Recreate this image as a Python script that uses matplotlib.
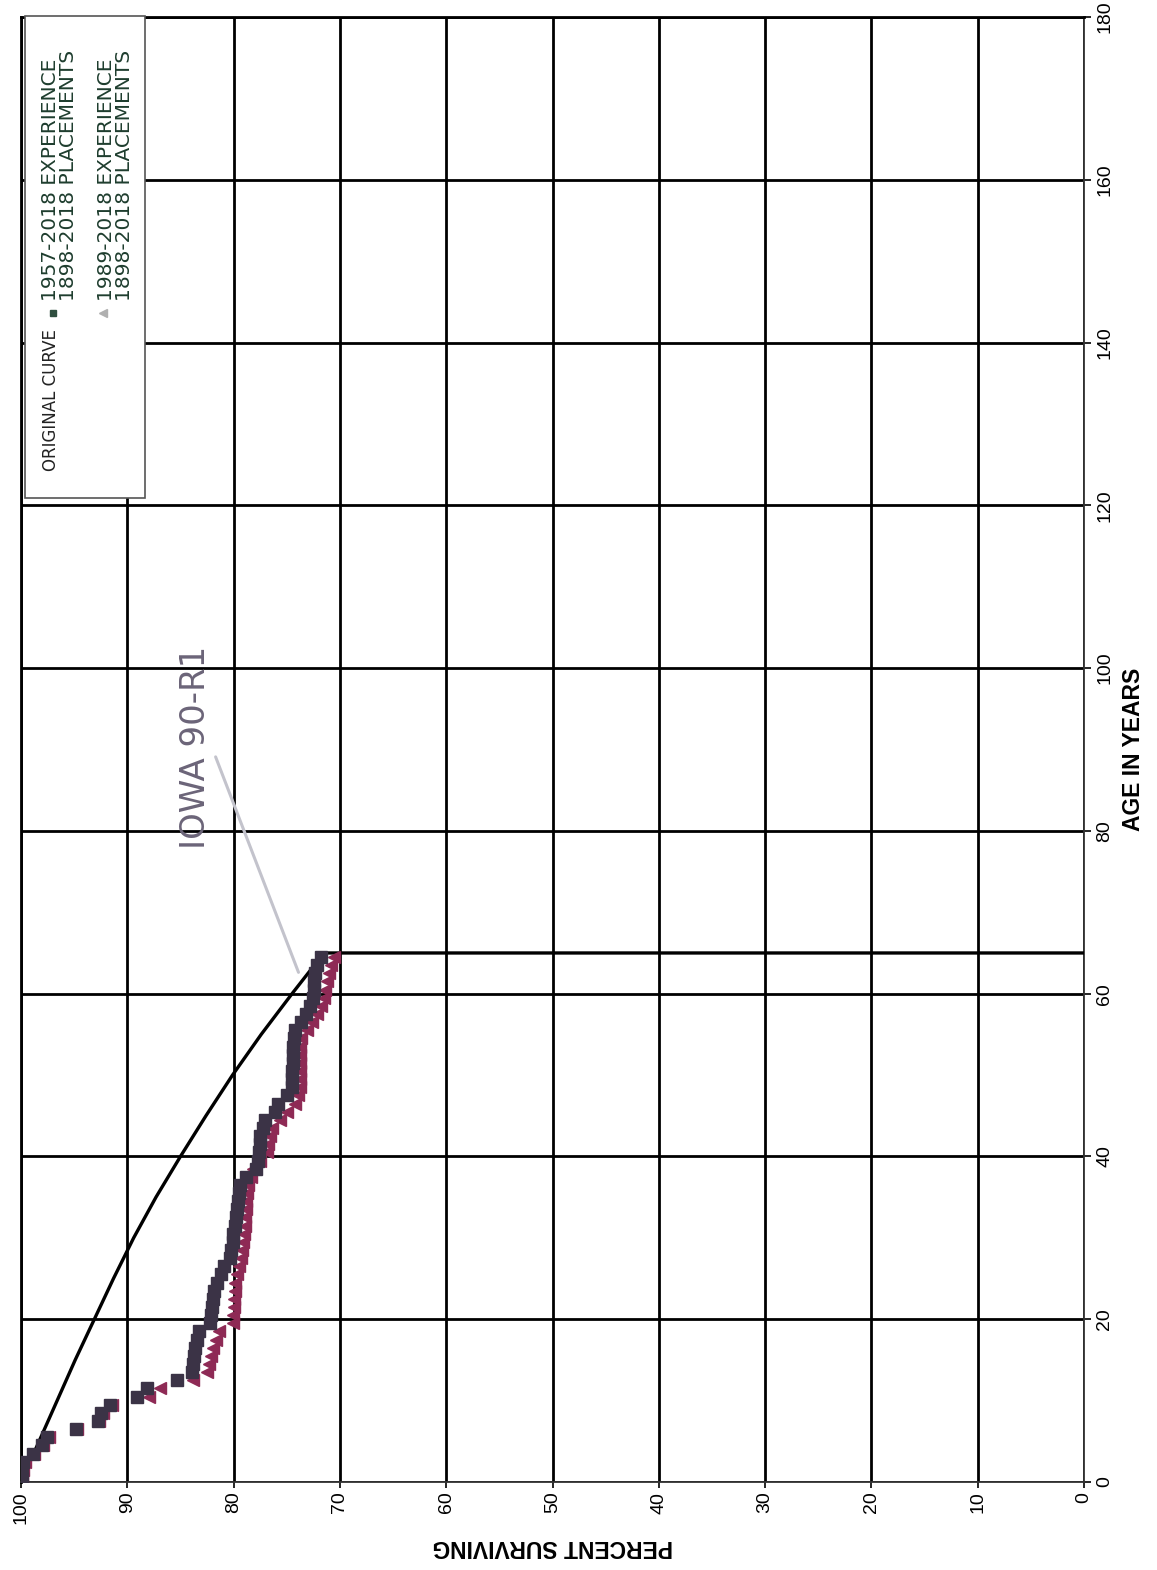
import numpy as np
import matplotlib
matplotlib.use('Agg')
import matplotlib.pyplot as plt
from matplotlib.patches import Rectangle

plt.rcParams['font.family'] = 'Liberation Sans'

# Iowa 90-R1 original curve, cut off at age 65
iowa_age = [0, 5, 10, 15, 20, 25, 30, 35, 40, 45, 50, 55, 60, 65, 65]
iowa_pct = [100, 98.3, 96.6, 94.9, 93.1, 91.3, 89.4, 87.3, 85.0, 82.6, 80.1, 77.4, 74.5, 71.5, 0]

# observed life table, ages 0.5 .. 64.5
exp_age = np.arange(0.5, 65, 1.0)
exp_1957 = [99.9, 99.9, 99.8, 98.9, 98.0, 97.6, 94.8, 92.8, 92.5, 91.6,
            89.1, 88.1, 85.3, 83.9, 83.8, 83.7, 83.6, 83.4, 83.3, 82.2,
            82.1, 82.0, 81.9, 81.8, 81.6, 81.2, 80.9, 80.3, 80.2, 80.1,
            80.1, 79.9, 79.8, 79.7, 79.6, 79.5, 79.4, 78.8, 77.9, 77.7,
            77.6, 77.5, 77.5, 77.2, 77.0, 76.1, 75.8, 75.0, 74.5, 74.5,
            74.5, 74.4, 74.4, 74.4, 74.3, 74.2, 73.7, 73.2, 72.8, 72.5,
            72.4, 72.4, 72.3, 72.2, 71.8]
exp_1989 = [99.9, 99.8, 99.6, 98.8, 97.9, 97.4, 94.7, 92.7, 92.3, 91.4,
            88.0, 86.9, 83.8, 82.5, 82.3, 82.1, 81.9, 81.7, 81.4, 80.1,
            80.1, 80.0, 80.0, 79.9, 79.9, 79.7, 79.5, 79.3, 79.2, 79.1,
            79.0, 78.9, 78.9, 78.8, 78.8, 78.7, 78.6, 78.4, 78.2, 77.5,
            76.9, 76.8, 76.6, 76.4, 75.6, 75.0, 74.2, 73.9, 73.8, 73.8,
            73.8, 73.8, 73.8, 73.8, 73.7, 73.1, 72.6, 72.2, 71.8, 71.5,
            71.4, 71.2, 71.0, 70.8, 70.6]

pct_ticks = [100, 90, 80, 70, 60, 50, 40, 30, 20, 10, 0]
age_ticks = [0, 20, 40, 60, 80, 100, 120, 140, 160, 180]

W, H = 1157, 1570
fig = plt.figure(figsize=(W / 100, H / 100), dpi=100)
ax = fig.add_axes([21 / W, 1 - 1482 / H, (1084 - 21) / W, (1482 - 17) / H])

# the chart is drawn turned a quarter turn: percent across, age upward
ax.set_xlim(100, 0)
ax.set_ylim(0, 180)
ax.set_xticks(pct_ticks)
ax.set_yticks(age_ticks)
ax.grid(True, color='black', lw=2.0)
ax.set_axisbelow(True)

for s in ['left', 'top']:
    ax.spines[s].set_linewidth(2.0)
for s in ['right', 'bottom']:
    ax.spines[s].set_linewidth(1.3)
    ax.spines[s].set_color('#333333')

ax.tick_params(axis='x', labelrotation=90, labelsize=14, length=4, width=1.2, pad=3)
ax.tick_params(axis='y', left=False, right=True, labelleft=False, labelright=True,
               labelrotation=90, labelsize=14, length=5, width=1.2, pad=4)
for lab in ax.get_yticklabels():
    lab.set_va('center')

ax.yaxis.set_label_position('right')
ax.set_ylabel('AGE IN YEARS', rotation=90, fontsize=16.5, fontweight='bold', labelpad=6)
ax.set_xlabel('PERCENT SURVIVING', rotation=180, fontsize=16.5, fontweight='bold', labelpad=8)

ax.plot(iowa_pct, iowa_age, color='black', lw=2.4, zorder=3)
ax.plot(exp_1989, exp_age, ls='none', marker='<', ms=8.5, color='#8e2a55', zorder=4)
ax.plot(exp_1957, exp_age, ls='none', marker='s', ms=8.5, color='#3b3346', zorder=5)

ax.annotate('IOWA 90-R1', xy=(73.8, 62.3), xytext=(83.6, 90.3), rotation=90,
            ha='center', va='center', fontsize=24.5, color='#6b6478', family='DejaVu Sans',
            arrowprops=dict(arrowstyle='-', color='#c3c3cc', lw=2.2, relpos=(1.0, 0.5)),
            zorder=6)

# legend box, drawn by hand so its text can be turned with the chart
ax.add_patch(Rectangle((0.0038, 0.672), 0.113, 0.329, transform=ax.transAxes,
                       facecolor='white', edgecolor='#555555', lw=1.2, zorder=7, clip_on=False))
leg_kw = dict(transform=ax.transAxes, rotation=90, ha='center', va='bottom',
              family='DejaVu Sans', zorder=8)
ax.text(0.0285, 0.690, 'ORIGINAL CURVE', color='#222222', fontsize=12, **leg_kw)
ax.text(0.0280, 0.806, '1957-2018 EXPERIENCE', color='#1e3d2e', fontsize=14.5, **leg_kw)
ax.text(0.0450, 0.806, '1898-2018 PLACEMENTS', color='#1e3d2e', fontsize=14.5, **leg_kw)
ax.text(0.0800, 0.806, '1989-2018 EXPERIENCE', color='#1e3d2e', fontsize=14.5, **leg_kw)
ax.text(0.0975, 0.806, '1898-2018 PLACEMENTS', color='#1e3d2e', fontsize=14.5, **leg_kw)
ax.plot([0.0301], [0.798], transform=ax.transAxes, marker='s', ms=5, color='#2f4f3f',
        zorder=8, clip_on=False)
ax.plot([0.0771], [0.798], transform=ax.transAxes, marker='<', ms=6, color='#b0b0b0',
        zorder=8, clip_on=False)

fig.savefig('out.png', dpi=100, facecolor='white')
